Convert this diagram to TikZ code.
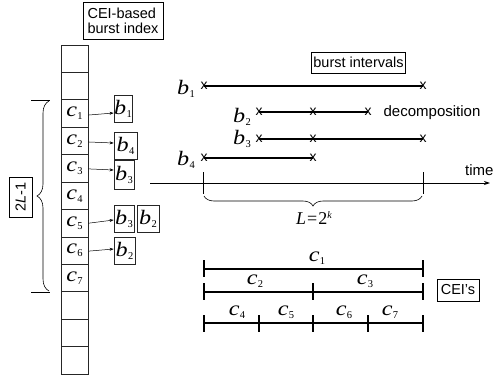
\documentclass[tikz,border=0pt]{standalone}
\usepackage{fontspec}
\setmainfont{Liberation Serif}
\setsansfont{Liberation Sans}
\usetikzlibrary{decorations.pathreplacing,arrows.meta}
\newcommand{\vv}[2]{\scalebox{1.18}[1]{\fontsize{20.5}{20.5}\selectfont\textit{#1}}\kern0.2pt\raisebox{-0.3em}{\fontsize{10.5}{10.5}\selectfont #2}}
\begin{document}
\begin{tikzpicture}[x=1pt,y=-1pt,
  cell/.style={draw=black!85, line width=0.8pt, minimum width=27pt, minimum height=27.4pt, inner sep=0pt},
  bbox/.style={draw=black!85, line width=0.8pt, minimum width=20pt, minimum height=27pt, inner sep=0pt},
  lab/.style={draw, line width=0.6pt, font=\sffamily\fontsize{14.5}{15}\selectfont, inner sep=3pt, align=left},
  ptr/.style={-{Stealth[length=4pt,width=3pt]}, line width=0.5pt},
  xm/.style={font=\sffamily\fontsize{14}{14}\selectfont, inner sep=0pt},
  ival/.style={line width=1.3pt},
  tick/.style={line width=1.3pt},
  tlab/.style={inner sep=0pt}]
\useasboundingbox (0,0) rectangle (494,377);
% index column
\foreach \i/\t in {1/,2/,3/\vv{c}{1},4/\vv{c}{2},5/\vv{c}{3},6/\vv{c}{4},7/\vv{c}{5},8/\vv{c}{6},9/\vv{c}{7},10/,11/,12/}
  \node[cell] (k\i) at (74.5, {45+(\i-0.5)*27.42}) {\t};
\node[lab, minimum width=80pt, minimum height=37pt] (title) at (123,20.5) {CEI-based\\burst index};
% burst boxes
\node[bbox, minimum width=18pt] (bA) at (123,109) {\vv{b}{1}};
\node[bbox, minimum width=23pt] (bB) at (125.5,146) {\vv{b}{4}};
\node[bbox, minimum height=29pt] (bC) at (124,174.5) {\vv{b}{3}};
\node[bbox] (bD) at (124,218.5) {\vv{b}{3}};
\node[bbox, minimum width=22pt] (bE) at (148,218.5) {\vv{b}{2}};
\node[bbox, minimum width=21pt] (bF) at (124.5,251) {\vv{b}{2}};
\draw[ptr] ([yshift=-1.5]k3.east) -- ([yshift=-4]bA.west);
\draw[ptr] ([yshift=-1]k4.east) -- ([yshift=3]bB.west);
\draw[ptr] ([yshift=-0.5]k5.east) -- ([yshift=4.5]bC.west);
\draw[ptr] ([yshift=0]k7.east) -- ([yshift=-1.5]bD.west);
\draw[ptr] ([yshift=-0.5]k8.east) -- ([yshift=2]bF.west);
% left brace
\coordinate (brT) at (49,101);
\coordinate (brB) at (49,291);
\draw[line width=0.6pt, decorate, decoration={brace, amplitude=12pt}] (brB) -- (brT);
\coordinate (hT1) at (31,100); \coordinate (hT2) at (50,100);
\coordinate (hB1) at (31,292); \coordinate (hB2) at (50,292);
\draw[line width=0.8pt] (hT1) -- (hT2);
\draw[line width=0.8pt] (hB1) -- (hB2);
\node[lab, rotate=90, minimum width=40pt, minimum height=23pt, inner sep=1pt] (twoL) at (20.5,197) {2\textit{L}-1};
% burst intervals
\node[lab, inner sep=2pt, minimum height=21pt] (bi) at (358.5,62.5) {burst intervals};
\node[tlab] (lb1) at (186,89) {\vv{b}{1}};
\node[xm] (x11) at (204,86) {x};
\node[xm] (x12) at (423,86) {x};
\draw[line width=1.1pt] (x11.center) -- (x12.center);
\node[tlab] (lb2) at (242,117) {\vv{b}{2}};
\node[xm] (x21) at (259,112) {x};
\node[xm] (x22) at (313,112) {x};
\node[xm] (x23) at (368,112) {x};
\draw[line width=1.1pt] (x21.center) -- (x23.center);
\node[font=\sffamily\fontsize{15}{15}\selectfont, inner sep=0pt] (dec) at (432,113) {decomposition};
\node[tlab] (lb3) at (242,139) {\vv{b}{3}};
\node[xm] (x31) at (259,139) {x};
\node[xm] (x32) at (313,139) {x};
\node[xm] (x33) at (423,139) {x};
\draw[line width=1.1pt] (x31.center) -- (x33.center);
\node[tlab] (lb4) at (186,160) {\vv{b}{4}};
\node[xm] (x41) at (204,158) {x};
\node[xm] (x42) at (313,158) {x};
\draw[line width=1.1pt] (x41.center) -- (x42.center);
% time axis
\coordinate (t0) at (150,183);
\coordinate (t1) at (490,183);
\draw[line width=0.9pt, -{Stealth[length=6pt,width=4pt]}] (t0) -- (t1);
\node[anchor=base west, font=\sffamily\fontsize{15}{15}\selectfont, inner sep=0pt] (time) at (465,175) {time};
\coordinate (ta1) at (203,172); \coordinate (ta2) at (203,194);
\coordinate (tb1) at (423,172); \coordinate (tb2) at (423,194);
\draw[line width=0.9pt] (ta1) -- (ta2);
\draw[line width=0.9pt] (tb1) -- (tb2);
\coordinate (LbL) at (204,196);
\coordinate (LbR) at (422,196);
\draw[line width=0.6pt, decorate, decoration={brace, amplitude=10pt}] (LbR) -- (LbL);
\node[tlab] (Llab) at (314,218) {{\fontsize{18}{18}\selectfont\textit{L}\kern1pt=\kern1pt2}\raisebox{0.6em}{\fontsize{10}{10}\selectfont\textit{k}}};
% CEIs
\foreach \n/\x in {a/204,b/259,c/313,d/368,e/423}{
  \coordinate (r1\n) at (\x,269);
  \coordinate (r2\n) at (\x,292);
  \coordinate (r3\n) at (\x,323);
}
\draw[ival] (r1a) -- (r1e);
\draw[ival] (r2a) -- (r2e);
\draw[ival] (r3a) -- (r3e);
\foreach \n in {a,e} \draw[tick] ([yshift=9]r1\n) -- ([yshift=-8]r1\n);
\foreach \n in {a,c,e} \draw[tick] ([yshift=9]r2\n) -- ([yshift=-8]r2\n);
\foreach \n in {a,b,c,d,e} \draw[tick] ([yshift=8]r3\n) -- ([yshift=-9]r3\n);
\node[tlab] (lc1) at (317,258) {\vv{c}{1}};
\node[tlab] (lc2) at (255,281) {\vv{c}{2}};
\node[tlab] (lc3) at (365,281) {\vv{c}{3}};
\node[tlab] (lc4) at (237,312) {\vv{c}{4}};
\node[tlab] (lc5) at (286,312) {\vv{c}{5}};
\node[tlab] (lc6) at (344,312) {\vv{c}{6}};
\node[tlab] (lc7) at (390,312) {\vv{c}{7}};
\node[lab, inner xsep=4pt, minimum height=22pt] (ceis) at (458,290) {CEI’s};
\end{tikzpicture}
\end{document}
